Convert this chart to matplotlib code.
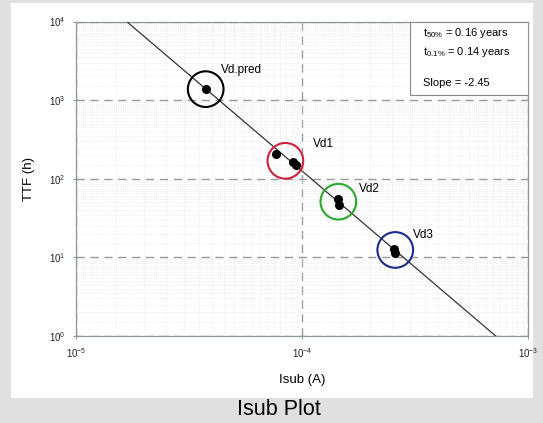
import numpy as np
import matplotlib.pyplot as plt
from matplotlib.patches import Rectangle
from matplotlib.ticker import LogLocator, NullFormatter

plt.rcParams['font.family'] = ['Liberation Sans', 'DejaVu Sans']
plt.rcParams['mathtext.fontset'] = 'custom'
plt.rcParams['mathtext.rm'] = 'Liberation Sans'

# measured points (Isub in A, TTF in h)
pred_x = [3.75e-5]
pred_y = [1380]
vd1_x = [7.67e-5, 9.16e-5, 9.38e-5]
vd1_y = [205, 165, 148]
vd2_x = [1.45e-4, 1.46e-4]
vd2_y = [55, 46]
vd3_x = [2.55e-4, 2.57e-4]
vd3_y = [12.7, 11.3]

# circle groups: label, centre x, centre y, colour
group_names = ['Vd.pred', 'Vd1', 'Vd2', 'Vd3']
group_cx = [3.75e-5, 8.45e-5, 1.45e-4, 2.59e-4]
group_cy = [1380, 169, 51, 12.4]
group_colors = ['black', '#d0213b', '#2aa82a', '#1c2a8c']

# fit line: TTF = 10**b * Isub**slope
slope = -2.45
intercept = -7.70
fit_x = np.array([1.0e-5, 1.0e-3])

fig = plt.figure(figsize=(5.43, 4.23), dpi=100)
fig.patch.set_facecolor('#e0e0e0')
fig.patches.append(Rectangle((11/543, 25/423), 522/543, 395/423,
                             transform=fig.transFigure, facecolor='white',
                             edgecolor='none', zorder=-10))

ax = fig.add_axes([0.140, 0.206, 0.832, 0.743])
ax.set_xscale('log')
ax.set_yscale('log')
ax.set_xlim(1e-5, 1e-3)
ax.set_ylim(1e0, 1e4)

for axis in (ax.xaxis, ax.yaxis):
    axis.set_minor_locator(LogLocator(base=10, subs=np.arange(1, 10, 0.5), numticks=20))
    axis.set_minor_formatter(NullFormatter())
ax.grid(which='minor', color='#e4e4e4', linestyle=':', linewidth=0.6)
ax.grid(which='major', color='#999999', linestyle=(0, (6, 4)), linewidth=1.0)
ax.tick_params(which='minor', length=0)
ax.tick_params(which='major', direction='inout', length=5, color='#8a9a90',
               labelsize=7, labelcolor='#222222', pad=5)
for s in ax.spines.values():
    s.set_color('#8a9a90')
    s.set_linewidth(0.9)

ax.plot(fit_x, 10**intercept * fit_x**slope, color='#333333', lw=0.9, zorder=3)

for xs, ys in [(pred_x, pred_y), (vd1_x, vd1_y), (vd2_x, vd2_y), (vd3_x, vd3_y)]:
    ax.plot(xs, ys, 'o', color='black', ms=5.5, zorder=4)

# label offsets from circle centre, in points
offsets = [(11, 13.5), (19.5, 12), (15, 9), (13, 11)]
for name, cx, cy, c, off in zip(group_names, group_cx, group_cy, group_colors, offsets):
    ax.scatter([cx], [cy], s=660, facecolors='none', edgecolors=c, linewidths=1.5, zorder=5)
    ax.annotate(name, (cx, cy), xytext=off, textcoords='offset points',
                fontsize=8.5, ha='left', va='center')

# info box
ax.add_patch(Rectangle((0.739, 0.766), 0.261, 0.234, transform=ax.transAxes,
                       facecolor='white', edgecolor='#888888', lw=0.8, zorder=6))
info = ['t$_{50\\%}$ = 0.16 years', 't$_{0.1\\%}$ = 0.14 years', 'Slope = -2.45']
info_y = [0.963, 0.903, 0.806]
for s, y in zip(info, info_y):
    ax.text(0.768, y, s, transform=ax.transAxes, fontsize=8, va='center', ha='left', zorder=7)

ax.set_xlabel('Isub (A)', fontsize=9.5, labelpad=10)
ax.set_ylabel('TTF (h)', fontsize=9.5, labelpad=10)

fig.text(0.513, 0.031, 'Isub Plot', fontsize=15.5, ha='center', va='center')

fig.savefig('out.png', dpi=100, facecolor=fig.get_facecolor())
